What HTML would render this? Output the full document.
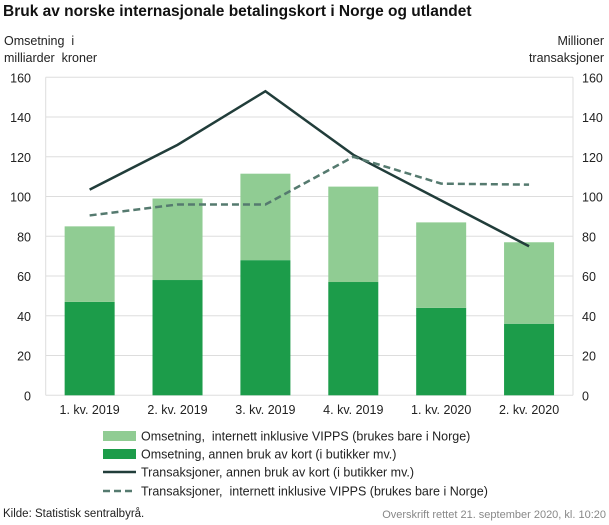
<!DOCTYPE html>
<html><head><meta charset="utf-8"><style>
body{margin:0;width:609px;height:525px;background:#fff;font-family:"Liberation Sans",sans-serif;position:relative;overflow:hidden;color:#222}
.t{position:absolute;white-space:nowrap}
</style></head><body>
<div class="t" style="left:3px;top:3px;font-size:15.5px;font-weight:bold;color:#111">Bruk av norske internasjonale betalingskort i Norge og utlandet</div>
<div class="t" style="left:4px;top:33px;font-size:12.5px;line-height:17px">Omsetning&nbsp; i<br>milliarder&nbsp; kroner</div>
<div class="t" style="right:5px;top:33px;font-size:12.5px;line-height:17px;text-align:right">Millioner<br>transaksjoner</div>
<svg id="c" width="609" height="525" style="position:absolute;left:0;top:0"></svg>
<div class="t" style="left:3px;top:508px;font-size:11.5px">Kilde: Statistisk sentralbyrå.</div>
<div class="t" style="right:3px;top:509px;font-size:11px;color:#888">Overskrift rettet 21. september 2020, kl. 10:20</div>
<script>
const categories=["1. kv. 2019","2. kv. 2019","3. kv. 2019","4. kv. 2019","1. kv. 2020","2. kv. 2020"];
const internettOmsetning=[38,41,43.5,48,43,41];
const annenOmsetning=[47,58,68,57,44,36];
const annenTransaksjoner=[103.5,126,153,121,98,75];
const internettTransaksjoner=[90.5,96,96,120,106.5,106];
const ticks=[0,20,40,60,80,100,120,140,160];
const legendLabels=["Omsetning,  internett inklusive VIPPS (brukes bare i Norge)","Omsetning, annen bruk av kort (i butikker mv.)","Transaksjoner, annen bruk av kort (i butikker mv.)","Transaksjoner,  internett inklusive VIPPS (brukes bare i Norge)"];
const NS="http://www.w3.org/2000/svg",svg=document.getElementById('c');
const L=45.7,R=573,Y0=395.3,Y1=77.3;
const y=v=>Y0-(v/160)*(Y0-Y1);
const bw=(R-L)/categories.length;
const x=i=>L+bw*(i+0.5);
function el(t,a,p){const e=document.createElementNS(NS,t);for(const k in a)e.setAttribute(k,a[k]);(p||svg).appendChild(e);return e;}
ticks.forEach(v=>{
 const g=el('line',{x1:L,x2:R,y1:y(v),y2:y(v),stroke:'#ddd','stroke-width':1});
 
 
 const a=el('text',{x:31,y:y(v)+5,'text-anchor':'end','font-size':12.5,fill:'#222'});a.textContent=v;
 
 
 const b=el('text',{x:582,y:y(v)+5,'font-size':12.5,fill:'#222'});b.textContent=v;
 
 
});
el('line',{x1:L,x2:L,y1:Y1,y2:Y0,stroke:'#ddd'});
el('line',{x1:R,x2:R,y1:Y1,y2:Y0,stroke:'#ddd'});
categories.forEach((c,i)=>{
 const d=el('rect',{x:x(i)-25,y:y(annenOmsetning[i]),width:50,height:Y0-y(annenOmsetning[i]),fill:'#1c9c4a'});
 
 
 const top=annenOmsetning[i]+internettOmsetning[i];
 const l=el('rect',{x:x(i)-25,y:y(top),width:50,height:y(annenOmsetning[i])-y(top),fill:'#90cc93'});
 
 
 const t=el('text',{x:x(i),y:414,'text-anchor':'middle','font-size':12.5,fill:'#222'});t.textContent=c;
 
 
});
const p1=el('polyline',{points:annenTransaksjoner.map((v,i)=>x(i)+','+y(v)).join(' '),fill:'none',stroke:'#213d3a','stroke-width':2.5});


const p2=el('polyline',{points:internettTransaksjoner.map((v,i)=>x(i)+','+y(v)).join(' '),fill:'none',stroke:'#557a6f','stroke-width':2.5,'stroke-dasharray':'7,4'});


const ly=[436,454,472,491];
legendLabels.forEach((s,i)=>{
 let m;
 if(i<2){m=el('rect',{x:103,y:ly[i]-5,width:33,height:10,fill:i==0?'#90cc93':'#1c9c4a'});}
 else{m=el('line',{x1:103,x2:136,y1:ly[i],y2:ly[i],stroke:i==2?'#213d3a':'#557a6f','stroke-width':2.5,'stroke-dasharray':i==3?'7,4':'none'});}
 
 
 const t=el('text',{x:141,y:ly[i]+4.5,'font-size':12.5,fill:'#222'});t.textContent=s;
 
 
 t.setAttribute('xml:space','preserve');t.style.whiteSpace='pre';
});
</script>
</body></html>
